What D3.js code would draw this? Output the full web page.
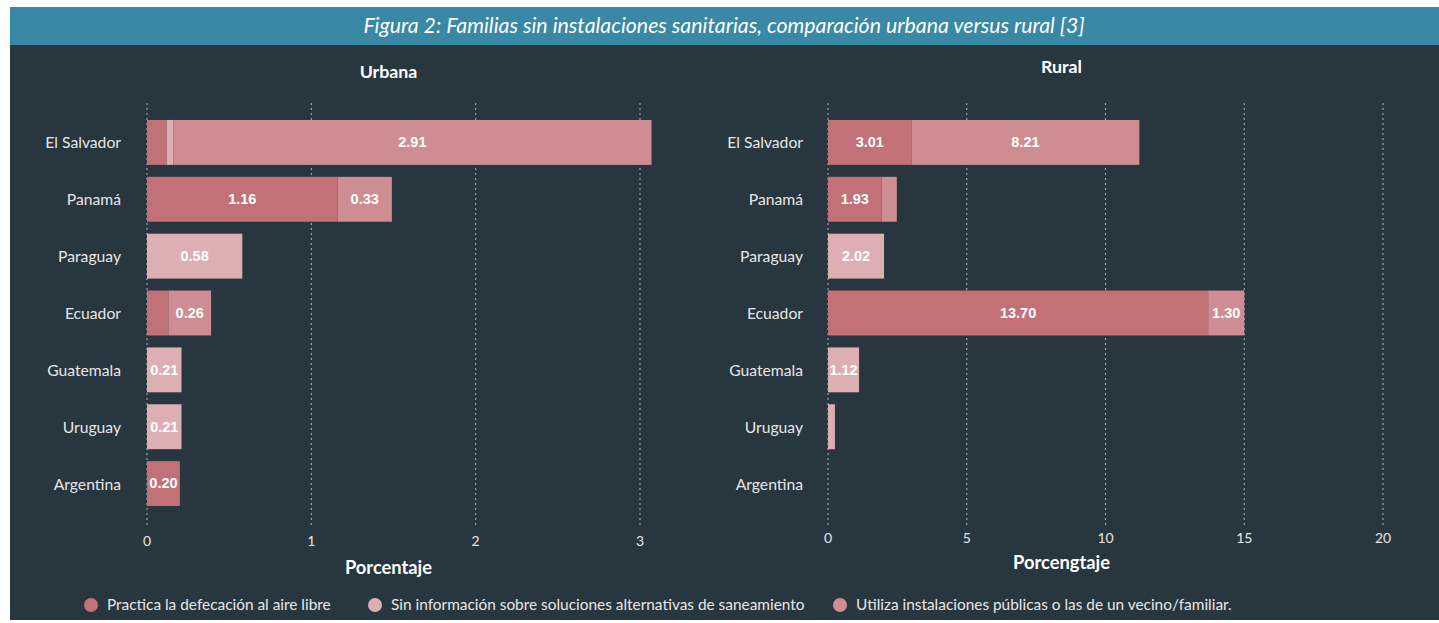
<!DOCTYPE html>
<html>
<head>
<meta charset="utf-8">
<script src="https://cdn.jsdelivr.net/npm/d3@7"></script>
<style>
  body { margin: 0; background: #fff; }
  svg { display: block; font-family: Lato, "Noto Sans", sans-serif; }
</style>
</head>
<body>
<svg width="1439" height="623"></svg>
<script>
// data
const countries = ["El Salvador", "Panamá", "Paraguay", "Ecuador", "Guatemala", "Uruguay", "Argentina"];
const seriesNames = [
  "Practica la defecación al aire libre",
  "Sin información sobre soluciones alternativas de saneamiento",
  "Utiliza instalaciones públicas o las de un vecino/familiar."
];
const urbanAire    = [0.12, 1.16, 0,    0.13, 0,    0,    0.20];
const urbanSinInfo = [0.04, 0,    0.58, 0,    0.21, 0.21, 0];
const urbanVecino  = [2.91, 0.33, 0,    0.26, 0,    0,    0];
const ruralAire    = [3.01, 1.93, 0,    13.70, 0,   0,    0];
const ruralSinInfo = [0,    0,    2.02, 0,    1.12, 0.25, 0];
const ruralVecino  = [8.21, 0.55, 0,    1.30, 0,    0,    0];
const urbanTicks = [0, 1, 2, 3];
const ruralTicks = [0, 5, 10, 15, 20];

const colors = ["#c27176", "#ddafb3", "#ce8d92"];

const svg = d3.select("svg");
const width = +svg.attr("width");

// background panel + title bar
svg.append("rect").attr("x", 10).attr("y", 45).attr("width", width - 10).attr("height", 575).attr("fill", "#283640");
svg.append("rect").attr("x", 10).attr("y", 7).attr("width", width - 10).attr("height", 38).attr("fill", "#3888a6");
svg.append("text")
  .attr("x", 724).attr("y", 33)
  .attr("text-anchor", "middle")
  .attr("fill", "#fff")
  .attr("font-style", "italic")
  .attr("font-size", 21.3)
  .text("Figura 2: Familias sin instalaciones sanitarias, comparación urbana versus rural [3]");

const y = d3.scaleBand()
  .domain(countries)
  .range([114, 512])
  .paddingInner(0.21)
  .paddingOuter(0.105);

const drawPanel = (opts) => {
  const { title, titleY, axisTitle, axisTitleY, tickY, x, ticks, series, labelX } = opts;
  const g = svg.append("g");
  const mid = (x.range()[0] + x(ticks[ticks.length - 1])) / 2 + opts.titleShift;

  // grid
  g.selectAll(".grid")
    .data(ticks)
    .enter().append("line")
      .attr("x1", d => x(d)).attr("x2", d => x(d))
      .attr("y1", 103).attr("y2", 527)
      .attr("stroke", "#9aa3a8")
      .attr("stroke-width", 1.2)
      .attr("stroke-dasharray", "2,3");

  // stacked segments
  const rows = countries.map((c, i) => {
    let acc = 0;
    return series.map((s, k) => {
      const seg = { country: c, k, v: s[i], x0: acc, x1: acc + s[i] };
      acc += s[i];
      return seg;
    });
  }).flat().filter(d => d.v > 0);

  g.selectAll(".seg")
    .data(rows)
    .enter().append("rect")
      .attr("x", d => x(d.x0))
      .attr("y", d => y(d.country))
      .attr("width", d => x(d.x1) - x(d.x0))
      .attr("height", y.bandwidth())
      .attr("fill", d => colors[d.k]);

  g.selectAll(".val")
    .data(rows.filter(d => x(d.x1) - x(d.x0) > 28))
    .enter().append("text")
      .attr("x", d => (x(d.x0) + x(d.x1)) / 2)
      .attr("y", d => y(d.country) + y.bandwidth() / 2 + 1)
      .attr("text-anchor", "middle")
      .attr("dominant-baseline", "middle")
      .attr("fill", "#fff")
      .attr("font-family", "'Liberation Sans', Arial, sans-serif")
      .attr("font-weight", "bold")
      .attr("font-size", 14.5)
      .text(d => d.v.toFixed(2));

  // country labels
  g.selectAll(".cat")
    .data(countries)
    .enter().append("text")
      .attr("x", labelX)
      .attr("y", d => y(d) + y.bandwidth() / 2 + 2)
      .attr("text-anchor", "end")
      .attr("dominant-baseline", "middle")
      .attr("fill", "#e6e6e6")
      .attr("font-size", 15.7)
      .text(d => d);

  // tick labels
  g.selectAll(".tick")
    .data(ticks)
    .enter().append("text")
      .attr("x", d => x(d))
      .attr("y", tickY)
      .attr("text-anchor", "middle")
      .attr("fill", "#e6e6e6")
      .attr("font-size", 14)
      .text(d => d);

  g.append("text")
    .attr("x", mid)
    .attr("y", titleY)
    .attr("text-anchor", "middle")
    .attr("fill", "#fff")
    .attr("font-weight", "bold")
    .attr("font-size", 17.8)
    .text(title);

  g.append("text")
    .attr("x", mid)
    .attr("y", axisTitleY)
    .attr("text-anchor", "middle")
    .attr("fill", "#fff")
    .attr("font-weight", "bold")
    .attr("font-size", 18.3)
    .text(axisTitle);
};

drawPanel({
  title: "Urbana", titleY: 78, axisTitle: "Porcentaje", axisTitleY: 574, tickY: 546,
  x: d3.scaleLinear().domain([0, 3]).range([147, 640]),
  ticks: urbanTicks,
  series: [urbanAire, urbanSinInfo, urbanVecino],
  labelX: 121, titleShift: -5
});

drawPanel({
  title: "Rural", titleY: 73, axisTitle: "Porcengtaje", axisTitleY: 569, tickY: 543,
  x: d3.scaleLinear().domain([0, 20]).range([828, 1383]),
  ticks: ruralTicks,
  series: [ruralAire, ruralSinInfo, ruralVecino],
  labelX: 803, titleShift: -44
});

// legend
const legendX = [91, 375, 840];
const legend = svg.append("g").selectAll("g")
  .data(seriesNames)
  .enter().append("g")
    .attr("transform", (d, i) => `translate(${legendX[i]},605)`);

legend.append("circle").attr("r", 7).attr("fill", (d, i) => colors[i]);
legend.append("text")
  .attr("x", 16)
  .attr("y", 1)
  .attr("dominant-baseline", "middle")
  .attr("fill", "#e6e6e6")
  .attr("font-size", 15.4)
  .text(d => d);
</script>
</body>
</html>
